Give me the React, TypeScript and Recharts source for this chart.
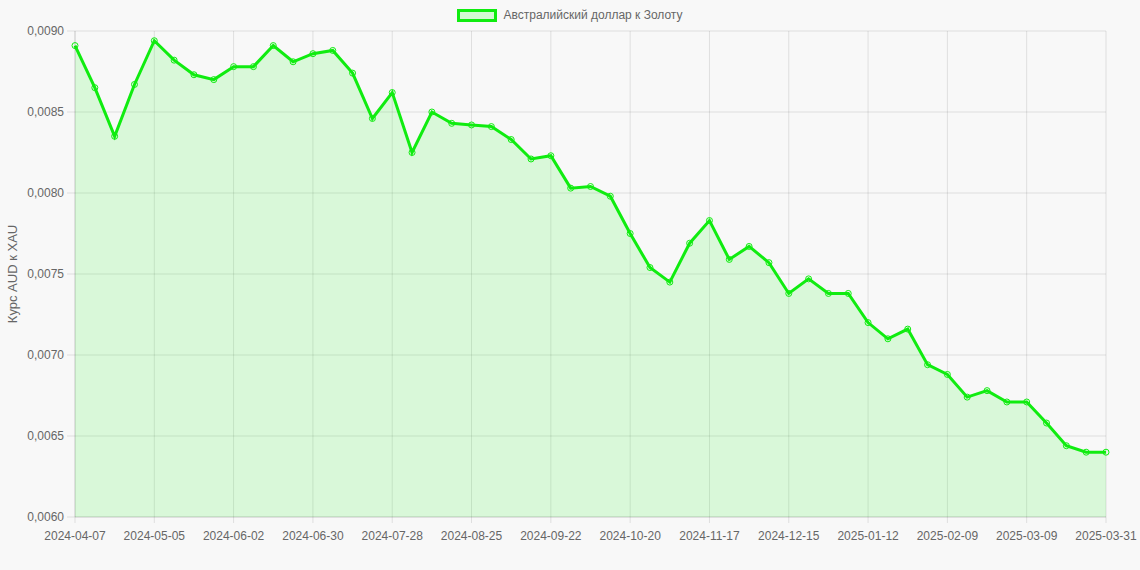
import { Area, AreaChart, CartesianGrid, XAxis, YAxis } from "recharts";

const dates = [
  "2024-04-07", "2024-04-14", "2024-04-21", "2024-04-28", "2024-05-05", "2024-05-12",
  "2024-05-19", "2024-05-26", "2024-06-02", "2024-06-09", "2024-06-16", "2024-06-23",
  "2024-06-30", "2024-07-07", "2024-07-14", "2024-07-21", "2024-07-28", "2024-08-04",
  "2024-08-11", "2024-08-18", "2024-08-25", "2024-09-01", "2024-09-08", "2024-09-15",
  "2024-09-22", "2024-09-29", "2024-10-06", "2024-10-13", "2024-10-20", "2024-10-27",
  "2024-11-03", "2024-11-10", "2024-11-17", "2024-11-24", "2024-12-01", "2024-12-08",
  "2024-12-15", "2024-12-22", "2024-12-29", "2025-01-05", "2025-01-12", "2025-01-19",
  "2025-01-26", "2025-02-02", "2025-02-09", "2025-02-16", "2025-02-23", "2025-03-02",
  "2025-03-09", "2025-03-16", "2025-03-23", "2025-03-30", "2025-03-31",
];

const audToXau = [
  0.00891, 0.00865, 0.00835, 0.00867, 0.00894, 0.00882, 0.00873, 0.0087, 0.00878,
  0.00878, 0.00891, 0.00881, 0.00886, 0.00888, 0.00874, 0.00846, 0.00862, 0.00825,
  0.0085, 0.00843, 0.00842, 0.00841, 0.00833, 0.00821, 0.00823, 0.00803, 0.00804,
  0.00798, 0.00775, 0.00754, 0.00745, 0.00769, 0.00783, 0.00759, 0.00767, 0.00757,
  0.00738, 0.00747, 0.00738, 0.00738, 0.0072, 0.0071, 0.00716, 0.00694, 0.00688,
  0.00674, 0.00678, 0.00671, 0.00671, 0.00658, 0.00644, 0.0064, 0.0064,
];

const yTicks = [0.006, 0.0065, 0.007, 0.0075, 0.008, 0.0085, 0.009];

const seriesName = "Австралийский доллар к Золоту";

const rows = dates.map((d, i) => ({ date: d, value: audToXau[i] }));

const GREEN = "#10ec10";
const TEXT = "#666";
const GRID = "rgba(0,0,0,0.1)";
const FONT = "Arial, 'Liberation Sans', Helvetica, sans-serif";

const fmt = (v: number) => v.toFixed(4).replace(".", ",");

// legend sits over the chart so it doesn't push the plot down
function LegendBox() {
  return (
    <div
      style={{
        position: "absolute",
        top: 8,
        left: 0,
        width: 1140,
        display: "flex",
        justifyContent: "center",
        alignItems: "center",
        fontFamily: FONT,
        fontSize: 12,
        color: TEXT,
        zIndex: 1,
      }}
    >
      <span
        style={{
          display: "inline-block",
          width: 34,
          height: 7,
          border: `3px solid ${GREEN}`,
          background: "rgba(0,255,0,0.15)",
          marginRight: 6,
        }}
      />
      <span>{seriesName}</span>
    </div>
  );
}

export default function App() {
  return (
    <div style={{ position: "absolute", left: 0, top: 0, width: 1140, height: 570, background: "#f8f8f8" }}>
      <LegendBox />
      <AreaChart width={1140} height={570} data={rows} margin={{ top: 31, right: 34, bottom: 0, left: 0 }}>
        <CartesianGrid stroke={GRID} />
        <XAxis
          dataKey="date"
          interval={3}
          height={53}
          tickSize={6}
          tickMargin={8}
          stroke={GRID}
          tick={{ fill: TEXT, fontSize: 12, fontFamily: FONT }}
          tickLine={{ stroke: GRID }}
          axisLine={{ stroke: GRID }}
        />
        <YAxis
          domain={[0.006, 0.009]}
          ticks={yTicks}
          width={75}
          tickSize={8}
          tickMargin={3}
          tickFormatter={fmt}
          tick={{ fill: TEXT, fontSize: 12, fontFamily: FONT }}
          tickLine={{ stroke: GRID }}
          axisLine={{ stroke: GRID }}
          label={{
            content: () => (
              <text
                x={17}
                y={274}
                transform="rotate(-90 17 274)"
                textAnchor="middle"
                fill={TEXT}
                fontSize={13}
                fontFamily={FONT}
              >
                Курс AUD к XAU
              </text>
            ),
          }}
        />
        <Area
          type="linear"
          dataKey="value"
          name={seriesName}
          stroke={GREEN}
          strokeWidth={3}
          fill="#00ff00"
          fillOpacity={0.12}
          dot={{ r: 3, stroke: GREEN, strokeWidth: 1, fill: "rgba(0,255,0,0.15)" }}
          activeDot={false}
          isAnimationActive={false}
        />
      </AreaChart>
    </div>
  );
}
